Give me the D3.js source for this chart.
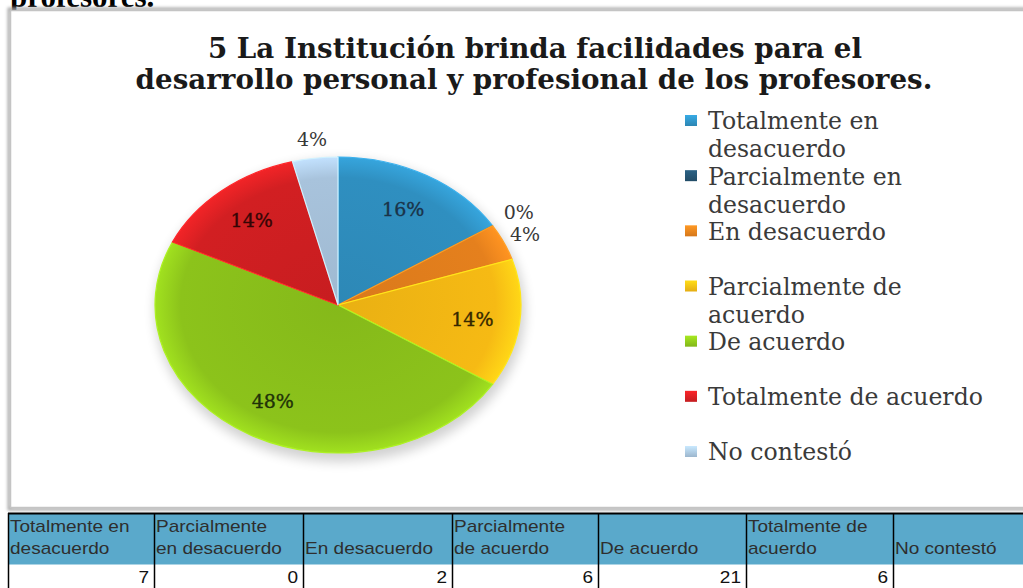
<!DOCTYPE html>
<html>
<head>
<meta charset="utf-8">
<script src="https://cdn.jsdelivr.net/npm/d3@7"></script>
<style>
  html, body { margin: 0; padding: 0; background: #ffffff; }
  svg { display: block; }
</style>
</head>
<body>
<svg id="chart" width="1023" height="588"></svg>
<script>
// ---- data ----
const categories = ["Totalmente en desacuerdo", "Parcialmente en desacuerdo", "En desacuerdo",
  "Parcialmente de acuerdo", "De acuerdo", "Totalmente de acuerdo", "No contestó"];
const percents = [16, 0, 4, 14, 48, 14, 4];
const counts = [7, 0, 2, 6, 21, 6, null];
const legendLines = [["Totalmente en", "desacuerdo"], ["Parcialmente en", "desacuerdo"], ["En desacuerdo"],
  ["Parcialmente de", "acuerdo"], ["De acuerdo"], ["Totalmente de acuerdo"], ["No contestó"]];
const headerLines = [["Totalmente en", "desacuerdo"], ["Parcialmente", "en desacuerdo"], ["", "En desacuerdo"],
  ["Parcialmente", "de acuerdo"], ["", "De acuerdo"], ["Totalmente de", "acuerdo"], ["", "No contestó"]];
const titleLines = ["5 La Institución brinda facilidades para el",
  "desarrollo personal y profesional de los profesores."];
const colors = ["#2f8fc0", "#24526f", "#e5801d", "#f6ba14", "#8cc31b", "#d21f22", "#a8c3dc"];
const labelColors = ["#1a3349", "#383838", "#383838", "#352800", "#1f3208", "#350505", "#383838"];

const svg = d3.select("#chart");
const defs = svg.append("defs");

// clipped heading text above the chart frame
svg.append("text").attr("x", 10).attr("y", 7)
  .attr("font-family", "Liberation Serif, serif").attr("font-weight", "bold")
  .attr("font-size", 31).attr("fill", "#000").text("profesores.");

// frame
const frameShadow = defs.append("filter").attr("id", "fs").attr("x", "-5%").attr("y", "-5%").attr("width", "110%").attr("height", "110%");
frameShadow.append("feGaussianBlur").attr("stdDeviation", 1.5);
svg.append("rect").attr("x", 9).attr("y", 9).attr("width", 1030).attr("height", 500)
  .attr("fill", "none").attr("stroke", "#a8a8a8").attr("stroke-width", 3).attr("filter", "url(#fs)");
svg.append("rect").attr("x", 10.5).attr("y", 10.5).attr("width", 1030).attr("height", 497)
  .attr("fill", "#fff").attr("stroke", "#c4c4c4").attr("stroke-width", 1.5);

// title
const titleG = svg.append("g").attr("font-family", "DejaVu Serif, serif").attr("font-weight", "bold").attr("fill", "#1a1a1a");
const t2 = titleG.append("text").attr("x", 534).attr("y", 89).attr("text-anchor", "middle")
  .attr("font-size", 24).text(titleLines[1]);
const titleSize = 24 * 797 / t2.node().getComputedTextLength();
t2.attr("font-size", titleSize);
titleG.append("text").attr("x", 535).attr("y", 58).attr("text-anchor", "middle")
  .attr("font-size", titleSize).text(titleLines[0]);

// pie
const cx = 338, cy = 305, rx = 183, ry = 148;
const pieData = d3.pie().sort(null).value(d => d)(percents);
const arc = d3.arc().innerRadius(0).outerRadius(ry);

colors.forEach((c, i) => {
  const g = defs.append("radialGradient").attr("id", "g" + i)
    .attr("gradientUnits", "userSpaceOnUse").attr("cx", 0).attr("cy", 0).attr("r", ry);
  g.append("stop").attr("offset", "0%").attr("stop-color", d3.color(c).darker(0.15));
  g.append("stop").attr("offset", "86%").attr("stop-color", c);
  g.append("stop").attr("offset", "100%").attr("stop-color", d3.color(c).brighter(0.4));
});

const sh = defs.append("filter").attr("id", "ps").attr("x", "-20%").attr("y", "-20%").attr("width", "140%").attr("height", "140%");
sh.append("feGaussianBlur").attr("stdDeviation", 6);
svg.append("ellipse").attr("cx", cx + 2).attr("cy", cy + 6).attr("rx", rx + 2).attr("ry", ry + 3)
  .attr("fill", "#000").attr("opacity", 0.18).attr("filter", "url(#ps)");

const pieG = svg.append("g").attr("transform", `translate(${cx},${cy}) scale(${rx / ry},1)`);
pieG.selectAll("path").data(pieData).join("path")
  .attr("d", arc)
  .attr("fill", (d, i) => `url(#g${i})`)
  .attr("stroke", (d, i) => d3.color(colors[i]).brighter(0.6))
  .attr("stroke-width", 1.2)
  .attr("vector-effect", "non-scaling-stroke");

// labels
const labelG = svg.append("g").attr("font-family", "DejaVu Serif, serif").attr("font-size", 19);
pieData.forEach((d, i) => {
  const mid = (d.startAngle + d.endAngle) / 2;
  const outside = d.data < 5;
  const r = outside ? (d.data === 0 ? 1.17 : 1.13) : 0.74;
  labelG.append("text")
    .attr("x", cx + Math.sin(mid) * rx * r)
    .attr("y", cy - Math.cos(mid) * ry * r)
    .attr("dy", "0.36em").attr("text-anchor", "middle")
    .attr("fill", labelColors[i])
    .attr("stroke", labelColors[i]).attr("stroke-width", outside ? 0 : 0.35)
    .text(d3.format(".0f")(d.data) + "%");
});

// legend
const legG = svg.append("g").attr("font-family", "DejaVu Serif, serif").attr("fill", "#3a3a3a");
const probe = legG.append("text").attr("font-size", 20).text(legendLines[5][0]);
const legSize = 20 * 275 / probe.node().getComputedTextLength();
probe.remove();
const legY = d3.scaleLinear().domain([0, 6]).range([121, 452]);
categories.forEach((c, i) => {
  const y0 = legY(i);
  const sg = defs.append("linearGradient").attr("id", "lg" + i).attr("x1", 0).attr("y1", 0).attr("x2", 0).attr("y2", 1);
  sg.append("stop").attr("offset", "0%").attr("stop-color", d3.color(colors[i]).brighter(0.5));
  sg.append("stop").attr("offset", "100%").attr("stop-color", d3.color(colors[i]).darker(0.2));
  legG.append("rect").attr("x", 685).attr("y", y0 - 6).attr("width", 12).attr("height", 11)
    .attr("fill", `url(#lg${i})`);
  legendLines[i].forEach((ln, j) => {
    legG.append("text").attr("x", 708).attr("y", y0 + j * 28).attr("dy", "0.36em")
      .attr("font-size", legSize).text(ln);
  });
});

// data table
const colEdges = [8, 154, 303, 452, 598, 746, 893, 1040];
const tG = svg.append("g").attr("font-family", "Liberation Sans, Arial, sans-serif").attr("font-size", 17);
const headTop = 513, headBot = 565, rowBot = 590;
const sx = 1.12;
tG.append("rect").attr("x", colEdges[0]).attr("y", headTop).attr("width", colEdges[7] - colEdges[0])
  .attr("height", headBot - headTop).attr("fill", "#5aa9cb");
tG.append("rect").attr("x", colEdges[0]).attr("y", headBot).attr("width", colEdges[7] - colEdges[0])
  .attr("height", rowBot - headBot).attr("fill", "#fff");
categories.forEach((c, i) => {
  headerLines[i].forEach((ln, j) => {
    tG.append("text").attr("transform", `translate(${colEdges[i] + 2},${532 + j * 21.5}) scale(${sx},1)`)
      .attr("fill", "#2e2e2e").text(ln);
  });
  if (counts[i] !== null) {
    tG.append("text").attr("transform", `translate(${colEdges[i + 1] - 5},583) scale(${sx},1)`)
      .attr("text-anchor", "end").attr("fill", "#111").text(counts[i]);
  }
});
tG.append("line").attr("x1", colEdges[0]).attr("x2", 1023).attr("y1", headTop + 0.5).attr("y2", headTop + 0.5)
  .attr("stroke", "#000").attr("stroke-width", 2);
tG.append("line").attr("x1", colEdges[0]).attr("x2", 1023).attr("y1", headBot).attr("y2", headBot)
  .attr("stroke", "#fff").attr("stroke-width", 1);
colEdges.slice(0, 7).forEach(x => {
  tG.append("line").attr("x1", x + 0.5).attr("x2", x + 0.5).attr("y1", headTop).attr("y2", rowBot)
    .attr("stroke", "#000").attr("stroke-width", 1.5);
});
</script>
</body>
</html>
